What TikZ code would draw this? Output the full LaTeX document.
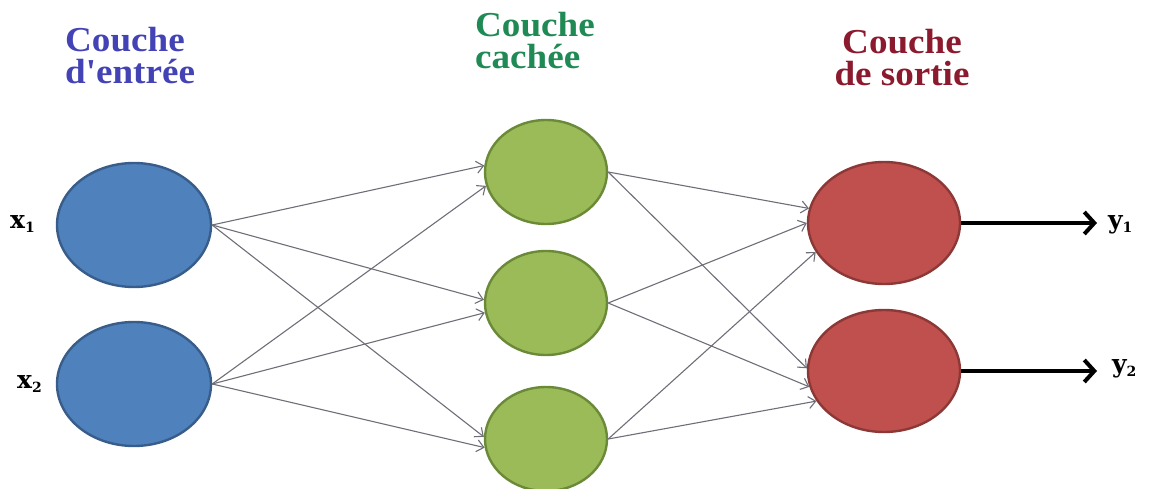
\documentclass[tikz,border=0pt]{standalone}
\usepackage{fontspec}
\newfontfamily\titlefont{Liberation Serif}[FakeStretch=1.06]
\newfontfamily\labelfont{DejaVu Serif}
\usetikzlibrary{shapes.geometric,arrows.meta}

\definecolor{inblue}{HTML}{4F81BD}
\definecolor{inblueline}{HTML}{385D8A}
\definecolor{hidgreen}{HTML}{9BBB59}
\definecolor{hidgreenline}{HTML}{6B8A38}
\definecolor{outred}{HTML}{C0504D}
\definecolor{outredline}{HTML}{8C3836}
\definecolor{titleblue}{HTML}{4343B6}
\definecolor{titlegreen}{HTML}{208A55}
\definecolor{titlered}{HTML}{8C1A2E}
\definecolor{conngray}{HTML}{6E6E78}

\newcommand\lblsub[1]{\raisebox{-4pt}{\fontsize{14}{14}\selectfont #1}}

\begin{document}
\begin{tikzpicture}[x=1pt,y=-1pt,
  neuron/.style={ellipse, inner sep=0pt, line width=2.4pt},
  inneuron/.style={neuron, fill=inblue, draw=inblueline,
    minimum width=154pt, minimum height=124pt},
  hidneuron/.style={neuron, fill=hidgreen, draw=hidgreenline,
    minimum width=122pt, minimum height=104pt},
  outneuron/.style={neuron, fill=outred, draw=outredline,
    minimum width=152pt, minimum height=122pt},
  title/.style={inner sep=0pt, font=\titlefont\fontsize{35}{32}\selectfont\bfseries},
  lbl/.style={inner sep=0pt, font=\labelfont\bfseries\fontsize{25}{25}\selectfont},
  conn/.style={draw=conngray, line width=1.1pt,
    -{Straight Barb[length=7pt,width=12pt]}},
  outarrow/.style={draw=black, line width=4pt,
    -{Straight Barb[length=10pt,width=22pt]}}]
\useasboundingbox (0,0) rectangle (1153,489);

% layer titles (the base anchor sits on the last line)
\node[title, text=titleblue, anchor=base west, align=left] (tin) at (65,84) {Couche\\d'entrée};
\node[title, text=titlegreen, anchor=base west, align=left] (thid) at (475,69) {Couche\\cachée};
\node[title, text=titlered, anchor=base, align=center] (tout) at (902,86) {Couche\\de sortie};

% neurons
\node[inneuron] (x1) at (134,225) {};
\node[inneuron] (x2) at (134,384) {};
\node[hidneuron] (h1) at (546,172) {};
\node[hidneuron] (h2) at (546,303) {};
\node[hidneuron] (h3) at (546,439) {};
\node[outneuron] (o1) at (884,223) {};
\node[outneuron] (o2) at (884,371) {};

% input and output labels
\node[lbl, anchor=base west] (lx1) at (10,228) {x\lblsub{1}};
\node[lbl, anchor=base west] (lx2) at (17,388) {x\lblsub{2}};
\node[lbl, anchor=base west] (ly1) at (1108,228) {y\lblsub{1}};
\node[lbl, anchor=base west] (ly2) at (1112,372) {y\lblsub{2}};

% input -> hidden
\draw[conn] (x1.east) -- (h1.174);
\draw[conn] (x2.east) -- (h1.193);
\draw[conn] (x1.east) -- (h2.177);
\draw[conn] (x2.east) -- (h2.189);
\draw[conn] (x1.east) -- (h3.178);
\draw[conn] (x2.east) -- (h3.188);

% hidden -> output
\draw[conn] (h1.east) -- (o1.169);
\draw[conn] (h2.east) -- (o1.180);
\draw[conn] (h3.east) -- (o1.203);
\draw[conn] (h1.east) -- (o2.178);
\draw[conn] (h2.east) -- (o2.192);
\draw[conn] (h3.east) -- (o2.204);

% outputs
\coordinate (y1tip) at (1097,223);
\coordinate (y2tip) at (1097,371);
\draw[outarrow] (o1.east) -- (y1tip);
\draw[outarrow] (o2.east) -- (y2tip);
\end{tikzpicture}
\end{document}
